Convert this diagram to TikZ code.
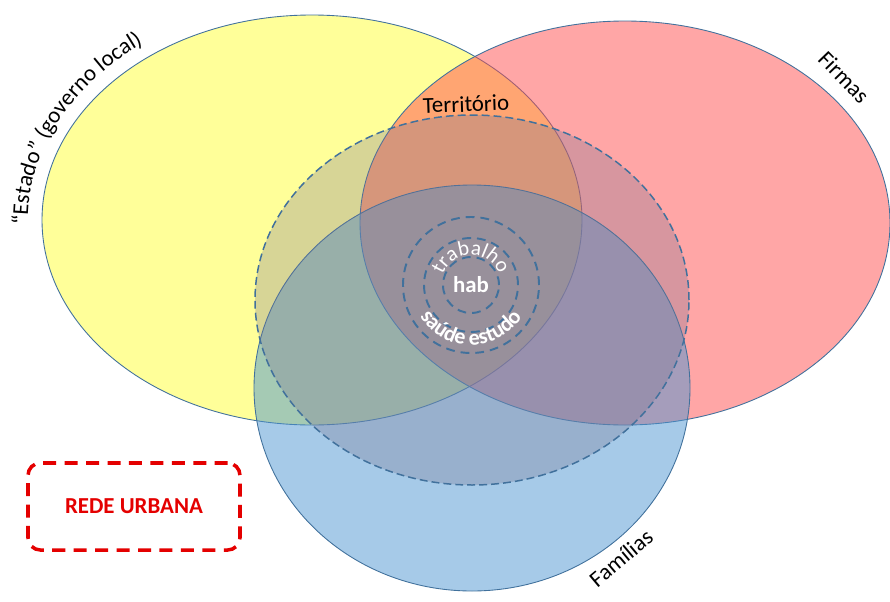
\documentclass[tikz,border=0pt]{standalone}
\usepackage{fontspec}
\setmainfont{Carlito}
\usetikzlibrary{decorations.text}
\definecolor{amarelo}{RGB}{255,255,51}
\definecolor{vermelho}{RGB}{255,77,77}
\definecolor{azul}{RGB}{77,149,209}
\definecolor{cinza}{RGB}{122,115,143}
\definecolor{contorno}{RGB}{65,113,156}
\definecolor{rederubra}{RGB}{228,0,0}

\begin{document}
\begin{tikzpicture}[x=0.2mm,y=0.2mm,
	font=\fontsize{13}{15}\selectfont,
	conjunto/.style={draw=contorno, line width=0.5pt, fill opacity=0.5},
	anel/.style={draw=contorno, line width=1.1pt, dash pattern=on 5pt off 3.4pt}]
	\useasboundingbox (0,0) rectangle (890,-601);
	% the three sets as overlapping ellipses
	\draw[conjunto, fill=amarelo] (312,-220) ellipse (270 and 205);
	\draw[conjunto, fill=vermelho] (625,-223) ellipse (265 and 202);
	\draw[conjunto, fill=azul] (472,-388) ellipse (218 and 203);
	% territory, dashed
	\draw[draw=contorno, line width=0.85pt, dash pattern=on 4.5pt off 2.3pt,
		fill=cinza, fill opacity=0.3] (472,-300) ellipse (217 and 185);
	% rings round the centre
	\coordinate (c) at (471,-285);
	\draw[anel] (c) circle (68);
	\draw[anel] (c) circle (47);
	\draw[anel] (c) circle (28);
	\node[font=\fontsize{13}{15}\selectfont\bfseries, text=white] (hab) at (c) {hab};
	\path[decorate, decoration={text along path, text align=center, text color=white,
		text={|\fontsize{12}{14}\selectfont|trabalho}}]
		(c) ++(170:30) arc[start angle=170, end angle=10, radius=30];
	\path[decorate, decoration={text along path, text align=center, text color=white,
		text={|\fontsize{12.5}{14}\selectfont\bfseries|saúde estudo}}]
		(c) ++(195:60) arc[start angle=195, end angle=345, radius=60];
	% labels of the sets
	\path[decorate, decoration={text along path, text align=center,
		text={|\fontsize{13}{15}\selectfont|“Estado” (governo local)}}]
		(312,-220) ++(194:284 and 219) arc[start angle=194, end angle=116, x radius=284, y radius=219];
	\node[rotate=-46] (firmas) at (844,-77) {Firmas};
	\node[rotate=40] (familias) at (621,-558) {Famílias};
	\node[rotate=2] (territorio) at (466,-104) {Território};
	% legend box
	\node[draw=rederubra, line width=2pt, dash pattern=on 7.4pt off 4.8pt, rounded corners=7pt,
		minimum width=42.4mm, minimum height=17.4mm, text=rederubra,
		font=\fontsize{13}{15}\selectfont\bfseries] (rede) at (134,-506.5) {REDE URBANA};
\end{tikzpicture}
\end{document}
